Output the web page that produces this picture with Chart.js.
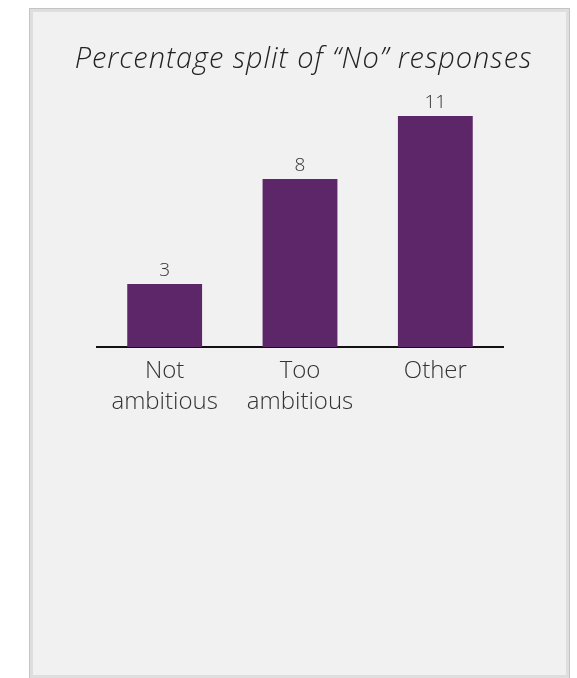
<!DOCTYPE html>
<html>
<head>
<meta charset="utf-8">
<script src="https://cdn.jsdelivr.net/npm/chart.js@4/dist/chart.umd.min.js"></script>
<style>
  html, body { margin: 0; padding: 0; background: #ffffff; width: 577px; height: 678px; overflow: hidden; }
  #panel { position: absolute; left: 29px; top: 8px; width: 539px; height: 669px; background: #f1f1f1;
           border: 1px solid #c4c4c4; box-shadow: inset 0 0 0 3px #dedede; }
  #c { position: absolute; left: 0; top: 0; }
</style>
</head>
<body>
<div id="panel"></div>
<canvas id="c" width="577" height="678"></canvas>
<script>
const categories = [["Not", "ambitious"], ["Too", "ambitious"], ["Other"]];
const values = [3, 8, 11];
const titleText = "Percentage split of \u201CNo\u201D responses";

const valueLabels = {
  id: 'valueLabels',
  afterDatasetsDraw(chart) {
    const ctx = chart.ctx;
    const meta = chart.getDatasetMeta(0);
    ctx.save();
    ctx.font = '300 19px "Open Sans"';
    ctx.fillStyle = '#333333';
    ctx.textAlign = 'center';
    ctx.textBaseline = 'middle';
    meta.data.forEach((bar, i) => {
      ctx.fillText(String(values[i]), bar.x, bar.y - 13);
    });
    ctx.restore();
  }
};

const spacedTitle = {
  id: 'spacedTitle',
  afterDraw(chart) {
    const ctx = chart.ctx;
    ctx.save();
    ctx.font = 'italic 300 29px "Open Sans"';
    if ('letterSpacing' in ctx) ctx.letterSpacing = '0.95px';
    ctx.fillStyle = '#222222';
    ctx.textAlign = 'center';
    ctx.textBaseline = 'alphabetic';
    ctx.fillText(titleText, 303.5, 68);
    ctx.restore();
  }
};

new Chart(document.getElementById('c'), {
  type: 'bar',
  data: {
    labels: categories,
    datasets: [{
      data: values,
      backgroundColor: '#5d2669',
      barPercentage: 0.553,
      categoryPercentage: 1.0
    }]
  },
  options: {
    responsive: false,
    animation: false,
    devicePixelRatio: 1,
    layout: { padding: { left: 97, right: 74, top: 116, bottom: 251 } },
    plugins: {
      legend: { display: false },
      tooltip: { enabled: false },
      title: { display: false }
    },
    scales: {
      x: {
        grid: { display: false },
        border: { display: true, color: '#111111', width: 2 },
        ticks: {
          color: '#333333',
          font: { family: '"Open Sans"', size: 24, weight: 300, lineHeight: 1.28 },
          padding: 1,
          maxRotation: 0,
          autoSkip: false
        },
        afterFit: (scale) => { scale.height = 80; }
      },
      y: {
        display: false,
        min: 0,
        max: 11
      }
    }
  },
  plugins: [valueLabels, spacedTitle]
});
</script>
</body>
</html>
